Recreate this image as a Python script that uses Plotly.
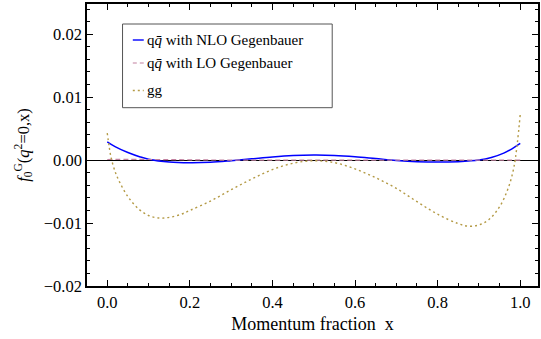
import plotly.graph_objects as go

# ---------------- data ----------------
x_nlo = [0.0, 0.02, 0.05, 0.08, 0.1, 0.15, 0.2, 0.25, 0.3, 0.35, 0.4, 0.45, 0.5,
         0.55, 0.6, 0.65, 0.7, 0.75, 0.8, 0.85, 0.9, 0.93, 0.96, 0.98, 1.0]
y_nlo = [0.0029, 0.0021, 0.0012, 0.0005, 0.00015, -0.0003, -0.00042, -0.00035,
         -0.0001, 0.0002, 0.0005, 0.00072, 0.0008, 0.00075, 0.00055, 0.00025,
         -0.00005, -0.00025, -0.00032, -0.00025, 0.0, 0.0004, 0.0011, 0.0018, 0.00265]

x_lo = [0.0, 0.1, 0.2, 0.3, 0.4, 0.5, 0.6, 0.7, 0.8, 0.9, 1.0]
y_lo = [0.0001, 0.0001, 0.00005, 0.0, 0.0, 0.0, 0.0, 0.0, 0.0, 0.0, 0.0]

x_gg = [0.0, 0.005, 0.01, 0.02, 0.03, 0.05, 0.075, 0.1, 0.125, 0.15, 0.175, 0.2,
        0.25, 0.3, 0.35, 0.4, 0.45, 0.5, 0.55, 0.6, 0.65, 0.7, 0.75, 0.8, 0.85,
        0.875, 0.9, 0.925, 0.95, 0.97, 0.985, 1.0]
y_gg = [0.0043, 0.002, 0.0002, -0.002, -0.0035, -0.0058, -0.0077, -0.0088,
        -0.0092, -0.0091, -0.0087, -0.008, -0.0065, -0.0047, -0.003, -0.0015,
        -0.0005, -0.0001, -0.0004, -0.0014, -0.0028, -0.0045, -0.0066, -0.0086,
        -0.0101, -0.0105, -0.0103, -0.0094, -0.0074, -0.0046, -0.001, 0.0073]

names = ["q<i>q\u0304</i> with NLO Gegenbauer",
         "q<i>q\u0304</i> with LO Gegenbauer",
         "gg"]

x_ticks = [0.0, 0.2, 0.4, 0.6, 0.8, 1.0]
y_ticks = [-0.02, -0.01, 0.0, 0.01, 0.02]

# ---------------- styling ----------------
FONT = "Liberation Serif, Times New Roman, serif"
W, H = 541, 339
ML, MR, MT, MB = 87, 1, 4, 53
c_nlo, c_lo, c_gg = "#0000ff", "#c2809f", "#b49a45"

def pxx(xp):
    return (xp - ML) / (W - ML - MR)

def pxy(yp):
    return (H - MB - yp) / (H - MT - MB)

fig = go.Figure()
fig.add_trace(go.Scatter(x=x_nlo, y=y_nlo, mode="lines", name=names[0],
                         line=dict(color=c_nlo, width=1.5, shape="spline"),
                         showlegend=False))
fig.add_trace(go.Scatter(x=x_lo, y=y_lo, mode="lines", name=names[1],
                         line=dict(color=c_lo, width=1.2, dash="5px,3px", shape="spline"),
                         showlegend=False))
fig.add_trace(go.Scatter(x=x_gg, y=y_gg, mode="lines", name=names[2],
                         line=dict(color=c_gg, width=1.4, dash="2px,3px", shape="spline"),
                         showlegend=False))

# manual legend (Mathematica-style boxed legend)
shapes = [dict(type="rect", xref="paper", yref="paper",
               x0=pxx(122.7), x1=pxx(333.3), y0=pxy(107.7), y1=pxy(24),
               line=dict(color="#555555", width=1), fillcolor="white", layer="above")]
annotations = []
rows = [(40, c_nlo, "solid", 1.4), (63, c_lo, "4px,3px", 1.2), (90.5, c_gg, "2px,3px", 1.4)]
for (yp, col, dsh, wd), nm in zip(rows, names):
    shapes.append(dict(type="line", xref="paper", yref="paper",
                       x0=pxx(133), x1=pxx(144), y0=pxy(yp), y1=pxy(yp),
                       line=dict(color=col, width=wd, dash=dsh), layer="above"))
    annotations.append(dict(xref="paper", yref="paper", x=pxx(145), y=pxy(yp),
                            xanchor="left", yanchor="middle", showarrow=False,
                            text=nm, font=dict(family=FONT, size=15, color="black")))

fig.update_layout(
    width=W, height=H,
    margin=dict(l=ML, r=MR, t=MT, b=MB, pad=0),
    paper_bgcolor="white", plot_bgcolor="white",
    font=dict(family=FONT, size=16, color="black"),
    shapes=shapes, annotations=annotations,
    showlegend=False,
)
fig.update_xaxes(
    range=[-0.049, 1.043], tickvals=x_ticks, tickformat=".1f",
    showgrid=False, zeroline=False,
    showline=True, linecolor="black", linewidth=1.5, mirror="ticks",
    ticks="inside", ticklen=6, tickwidth=1.2, tickcolor="black",
    minor=dict(dtick=0.05, tick0=0, ticks="inside", ticklen=3, tickwidth=1, tickcolor="black", showgrid=False),
    title=dict(text="Momentum fraction  x", font=dict(family=FONT, size=18), standoff=7),
    tickfont=dict(family=FONT, size=16.5),
)
fig.update_yaxes(
    range=[-0.02, 0.0248], tickvals=y_ticks, tickformat=".2f",
    showgrid=False, zeroline=True, zerolinecolor="black", zerolinewidth=1.3,
    showline=True, linecolor="black", linewidth=1.5, mirror="ticks",
    ticks="inside", ticklen=6, tickwidth=1.2, tickcolor="black",
    minor=dict(dtick=0.002, tick0=0, ticks="inside", ticklen=3, tickwidth=1, tickcolor="black", showgrid=False),
    title=dict(text="<i>f</i><sub>0</sub><sup>G</sup>(<i>q</i><sup>2</sup>=0,x)",
               font=dict(family=FONT, size=16.5), standoff=10),
    tickfont=dict(family=FONT, size=16.5),
)

fig.write_html("out.html")
